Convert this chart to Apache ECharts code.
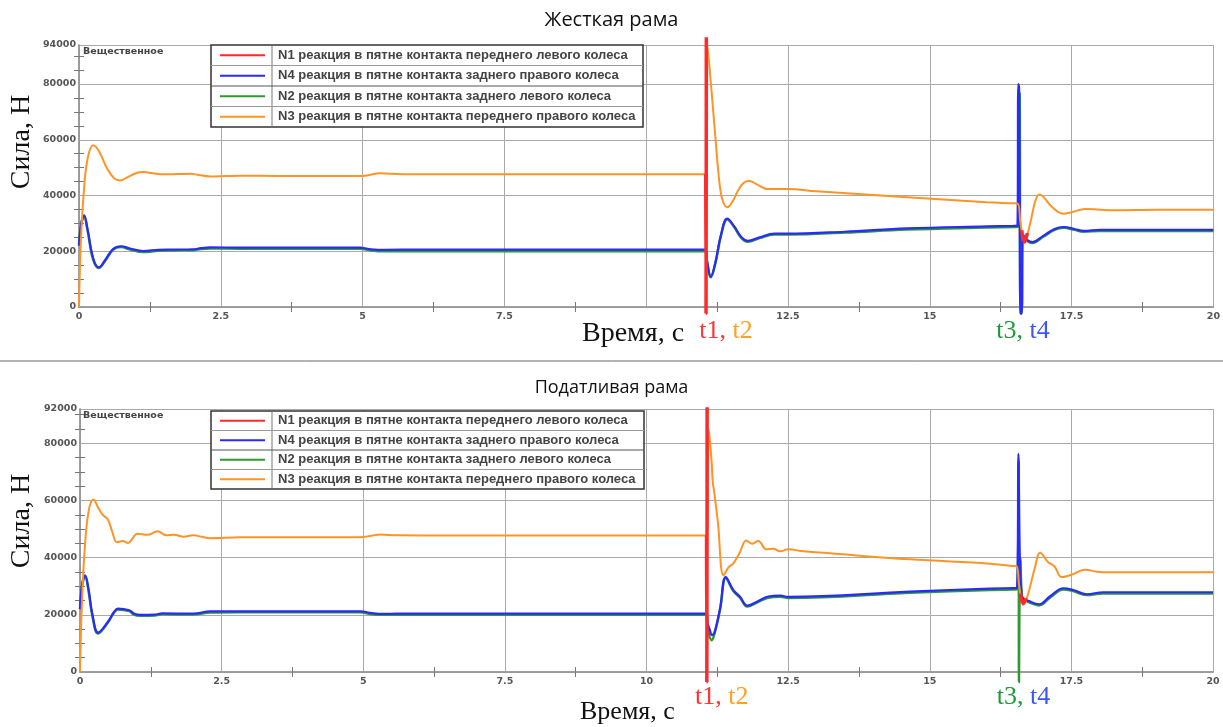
<!DOCTYPE html>
<html><head><meta charset="utf-8">
<script src="https://cdn.jsdelivr.net/npm/echarts@6/dist/echarts.min.js"></script>
<style>html,body{margin:0;padding:0;background:#fff}#c{width:1223px;height:727px}</style>
</head><body><div id="c"></div>
<script>
// ---- texts ----
const chartTitles = ['Жесткая рама', 'Податливая рама'];
const yAxisTitle = 'Сила, Н';
const xAxisTitle = 'Время, с';
const cornerNote = 'Вещественное';
const seriesNames = [
  'N1 реакция в пятне контакта переднего левого колеса',
  'N4 реакция в пятне контакта заднего правого колеса',
  'N2 реакция в пятне контакта заднего левого колеса',
  'N3 реакция в пятне контакта переднего правого колеса'
];
const seriesColors = ['#ff2a2a', '#2a2aff', '#2e9a2e', '#ff9326'];
const eventLabels = [['t1,', ' t2'], ['t3,', ' t4']];
const eventLabelColors = [['#ff3333', '#ffa020'], ['#1e9a3c', '#3a55ff']];

// ---- axes ----
const xMin = 0, xMax = 20, xStep = 2.5;
const yMin = 0, yStep = 20000;
const yMaxTop = 94000, yMaxBottom = 92000;
const eventTimesTop = [11.06, 16.56];
const eventTimesBottom = [11.07, 16.57];

// ---- data: rigid frame (top) [t, N] ----
const topN3 = [[0,0],[0.03,22000],[0.08,40000],[0.15,53000],[0.25,58000],[0.35,56000],[0.5,49500],[0.62,46200],[0.72,45400],[0.85,46500],[1.0,48000],[1.14,48400],[1.3,48000],[1.5,47600],[1.75,47700],[1.96,47800],[2.1,47400],[2.31,46850],[2.6,47000],[2.84,47100],[3.5,47000],[4.5,47000],[4.95,47000],[5.1,47300],[5.3,48000],[5.5,47800],[6.0,47600],[8.0,47600],[10.0,47600],[11.0,47600],[11.04,47600],[11.06,47600],
  [11.08,93800],[11.15,78000],[11.21,63300],[11.30,43000],[11.36,37500],[11.43,35800],[11.52,37800],[11.62,41800],[11.72,44600],[11.82,45200],[11.95,44000],[12.15,42300],[12.5,42300],[13.0,41500],[14.6,39400],[16.0,37600],[16.47,37200],[16.55,37100],
  [16.6,30000],[16.67,23300],[16.77,30000],[16.86,38000],[16.93,40400],[17.0,39600],[17.15,36000],[17.35,33500],[17.5,34000],[17.74,35200],[18.0,34900],[18.24,34700],[19.0,34900],[20.0,34900]];
const topN1 = [[11.05,47600],[11.055,-2300],[11.06,96800],[11.065,null],[16.62,27500],[16.67,23300],[16.72,26500]];
const topN4 = [[0,22000],[0.04,30000],[0.09,32900],[0.15,28000],[0.25,17500],[0.35,14200],[0.45,16500],[0.6,20800],[0.74,21800],[0.9,21000],[1.13,20100],[1.4,20500],[1.66,20600],[2.0,20700],[2.15,21100],[2.31,21400],[2.84,21300],[4.0,21300],[4.95,21300],[5.15,20700],[5.4,20500],[6.0,20600],[8.0,20600],[11.0,20600],[11.05,20600],
  [11.07,17000],[11.14,10900],[11.22,16000],[11.32,26000],[11.43,31700],[11.55,29000],[11.68,25000],[11.79,23700],[12.0,25000],[12.26,26300],[12.5,26300],[13.5,27000],[14.6,28200],[16.0,28900],[16.47,29100],[16.545,29200],
  [16.56,80000],[16.575,78000],[16.6,-2300],[16.62,-2300],[16.64,26000],[16.72,24000],[16.81,23300],[17.0,25500],[17.2,28000],[17.36,28700],[17.55,28000],[17.71,27300],[18.0,27700],[18.3,27700],[20.0,27700]];
const topN2 = [[0,22000],[0.04,30000],[0.09,32500],[0.15,27500],[0.25,17000],[0.35,14000],[0.45,16200],[0.6,20500],[0.74,21500],[0.9,20600],[1.13,19700],[1.4,20200],[1.66,20300],[2.0,20400],[2.15,20800],[2.31,21000],[2.84,20900],[4.95,20900],[5.15,20300],[5.4,20000],[6.0,20000],[11.0,20000],[11.05,20000],
  [11.07,16500],[11.14,10700],[11.22,15700],[11.32,25700],[11.43,31500],[11.55,28700],[11.68,24700],[11.79,23400],[12.0,24700],[12.26,26000],[12.5,26000],[13.5,26700],[14.6,27800],[16.0,28500],[16.5,28700],[16.57,28800],
  [16.585,77000],[16.6,-2300],[16.62,-2300],[16.64,25500],[16.72,23700],[16.81,23000],[17.0,25200],[17.2,27700],[17.36,28400],[17.55,27700],[17.71,27000],[18.0,27300],[20.0,27300]];

// ---- data: compliant frame (bottom) [t, N] ----
const botN3 = [[0,0],[0.03,22000],[0.08,42000],[0.15,56000],[0.24,60300],[0.32,57500],[0.4,55000],[0.49,53400],[0.57,49000],[0.65,45400],[0.75,45800],[0.85,45100],[0.93,46800],[1.01,48400],[1.19,48000],[1.37,49200],[1.52,47800],[1.66,48000],[1.83,47300],[2.0,47800],[2.15,47300],[2.3,46800],[2.83,47150],[4.0,47150],[4.95,47150],[5.15,47700],[5.3,48100],[5.6,47800],[6.5,47760],[11.0,47760],[11.05,47760],[11.07,47760],
  [11.1,85000],[11.15,73400],[11.17,66400],[11.2,62300],[11.26,52400],[11.36,33800],[11.45,36700],[11.53,37900],[11.65,41900],[11.76,46000],[11.86,44900],[11.97,45800],[12.12,42900],[12.24,43100],[12.36,42200],[12.5,42900],[12.77,42200],[13.12,41700],[14.65,39400],[16.06,37900],[16.45,37100],[16.53,37000],
  [16.58,30000],[16.65,23900],[16.72,26200],[16.85,36000],[16.95,41700],[17.09,38400],[17.2,37000],[17.33,33200],[17.5,34000],[17.74,35800],[17.95,35100],[18.18,34900],[20.0,34900]];
const botN1 = [[11.06,47760],[11.065,-3500],[11.07,92600],[11.075,null],[16.6,27500],[16.65,23900],[16.7,25800]];
const botN4 = [[0,22000],[0.04,31000],[0.09,33800],[0.15,29000],[0.22,20000],[0.32,13800],[0.49,17500],[0.6,21000],[0.67,22200],[0.87,21600],[0.95,20500],[1.06,20000],[1.32,20100],[1.45,20500],[2.0,20400],[2.3,21200],[2.83,21200],[4.95,21200],[5.15,20600],[5.35,20300],[5.6,20400],[11.0,20400],[11.06,20400],
  [11.08,17000],[11.12,14600],[11.15,13000],[11.2,13800],[11.3,22300],[11.4,33200],[11.53,28700],[11.65,26300],[11.78,23200],[11.95,24600],[12.15,26400],[12.36,26700],[12.5,26300],[14.65,28100],[16.06,29200],[16.48,29350],[16.54,29400],
  [16.565,76300],[16.59,40000],[16.62,27000],[16.65,25800],[16.74,24900],[16.93,23700],[17.12,26400],[17.36,29300],[17.53,28700],[17.77,27200],[18.06,27900],[20.0,27900]];
const botN2 = [[0,22000],[0.04,30500],[0.09,33400],[0.15,28500],[0.22,19500],[0.32,13500],[0.49,17200],[0.6,20700],[0.67,21900],[0.87,21300],[0.95,20100],[1.06,19700],[1.32,19800],[1.45,20200],[2.0,20100],[2.3,20800],[2.83,20900],[4.95,20900],[5.15,20200],[5.35,20000],[11.0,20000],[11.06,20000],
  [11.08,15000],[11.15,11100],[11.2,13400],[11.3,22100],[11.4,33000],[11.53,28400],[11.65,26000],[11.78,22900],[11.95,24300],[12.15,26000],[12.36,26300],[12.5,25900],[14.65,27700],[16.06,28700],[16.48,28850],[16.54,28900],
  [16.57,73600],[16.575,-3500],[16.58,-3500],[16.6,40000],[16.63,26000],[16.7,25000],[16.74,24500],[16.93,23300],[17.12,26000],[17.36,28900],[17.53,28300],[17.77,26900],[18.06,27500],[20.0,27500]];

// ---- layout ----
const grids = [
  {left: 79, top: 45, width: 1138, height: 262},
  {left: 80, top: 409, width: 1133, height: 263}
];
const legendBoxes = [
  {x: 211, y: 45, w: 432, row: 20.5},
  {x: 211, y: 411, w: 433, row: 19.5}
];

const gridColor = '#aaaaaa';
const borderColor = '#999999';
const tickLabelStyle = {color: '#555', fontFamily: 'DejaVu Sans', fontWeight: 'bold', fontSize: 9.5};

function xAxes(gi, hideTen) {
  const base = {
    type: 'value', gridIndex: gi, min: xMin, max: xMax, interval: xStep,
    axisLine: {show: true, lineStyle: {color: borderColor, width: 1.5}},
    axisTick: {show: false},
    minorTick: {show: true, splitNumber: 2, length: 5, lineStyle: {color: '#777'}},
    minorSplitLine: {show: false}
  };
  return [
    Object.assign({}, base, {
      position: 'bottom',
      splitLine: {show: true, lineStyle: {color: gridColor, width: 1}},
      axisLabel: Object.assign({margin: 5, formatter: v => (hideTen && v === 10) ? '' : String(v)}, tickLabelStyle)
    }),
    Object.assign({}, base, {
      position: 'top',
      splitLine: {show: false},
      axisLabel: {show: false}
    })
  ];
}
function yAxes(gi, ymax) {
  const base = {
    type: 'value', gridIndex: gi, min: yMin, max: ymax, interval: yStep,
    axisLine: {show: true, lineStyle: {color: borderColor, width: 1.5}},
    axisTick: {show: false},
    minorTick: {show: true, splitNumber: 4, length: 5, lineStyle: {color: '#777'}}
  };
  return [
    Object.assign({}, base, {
      position: 'left',
      splitLine: {show: true, lineStyle: {color: gridColor, width: 1}},
      axisLabel: Object.assign({margin: 3, formatter: v => String(v)}, tickLabelStyle)
    }),
    Object.assign({}, base, {
      position: 'right',
      splitLine: {show: false},
      axisLabel: {show: false}
    })
  ];
}

function mkSeries(gi, name, data, color, width, z) {
  return {
    type: 'line', name: name, data: data,
    xAxisIndex: gi * 2, yAxisIndex: gi * 2,
    symbol: 'none', showSymbol: false,
    smooth: 0.4, clip: false, connectNulls: false,
    lineStyle: {color: color, width: width}, itemStyle: {color: color},
    z: z, animation: false
  };
}

const seriesList = [];
[[topN1, topN4, topN2, topN3], [botN1, botN4, botN2, botN3]].forEach((set, gi) => {
  // draw order: N4 (blue) under N2 (green) at top chart spike region is handled by data offsets
  seriesList.push(mkSeries(gi, seriesNames[2], set[2], seriesColors[2], 2.5, 2));
  seriesList.push(mkSeries(gi, seriesNames[1], set[1], seriesColors[1], 2.2, 3));
  seriesList.push(mkSeries(gi, seriesNames[3], set[3], seriesColors[3], 2, 4));
  seriesList.push(mkSeries(gi, seriesNames[0], set[0], seriesColors[0], 3.5, 5));
});

const legends = legendBoxes.map(b => ({
  orient: 'vertical', left: b.x + 9, top: b.y, padding: 0, itemGap: 0,
  itemWidth: 45, itemHeight: 2,
  icon: 'rect',
  data: seriesNames,
  selectedMode: false,
  textStyle: {color: '#444', fontFamily: 'Liberation Sans', fontWeight: 'bold', fontSize: 13,
    lineHeight: b.row, height: b.row, padding: [0, 0, 0, 8]}
}));

const chart = echarts.init(document.getElementById('c'), null, {renderer: 'canvas'});

function legendGraphics(b) {
  const g = [];
  g.push({type: 'rect', z: 3, shape: {x: b.x, y: b.y, width: b.w, height: b.row * 4},
    style: {fill: '#fff', stroke: null}});
  g.push({type: 'rect', z: 10, shape: {x: b.x, y: b.y, width: b.w, height: b.row * 4},
    style: {fill: null, stroke: '#333', lineWidth: 1.5}});
  g.push({type: 'line', z: 10, shape: {x1: b.x + 61, y1: b.y, x2: b.x + 61, y2: b.y + b.row * 4},
    style: {stroke: '#777', lineWidth: 1}});
  for (let i = 1; i < 4; i++) {
    g.push({type: 'line', z: 10, shape: {x1: b.x, y1: b.y + b.row * i, x2: b.x + b.w, y2: b.y + b.row * i},
      style: {stroke: i === 2 ? '#555' : '#999', lineWidth: 1}});
  }
  return g;
}

chart.setOption({
  backgroundColor: '#fff',
  animation: false,
  title: chartTitles.map((t, i) => ({
    text: t, left: 'center', top: i === 0 ? 5 : 374,
    textStyle: {fontFamily: 'Open Sans', fontWeight: 'normal', fontSize: i === 0 ? 20 : 18, color: '#111'}
  })),
  grid: grids.map(g => Object.assign({containLabel: false}, g)),
  xAxis: xAxes(0, true).concat(xAxes(1, false)),
  yAxis: yAxes(0, yMaxTop).concat(yAxes(1, yMaxBottom)),
  legend: legends,
  series: seriesList
});

// annotations placed relative to the axes
function px(gi, t, v) { return chart.convertToPixel({xAxisIndex: gi * 2, yAxisIndex: gi * 2}, [t, v]); }
const graphics = [];
legendBoxes.forEach(b => legendGraphics(b).forEach(e => graphics.push(e)));
graphics.push({type: 'line', z: 1, shape: {x1: 0, y1: 361, x2: 1223, y2: 361}, style: {stroke: '#666', lineWidth: 1}});
[0, 1].forEach(gi => {
  const g = grids[gi];
  const bottom = g.top + g.height;
  graphics.push({type: 'text', z: 10, x: 83, y: g.top + 2,
    style: {text: cornerNote, fill: '#444', font: 'bold 9.5px "DejaVu Sans"', textVerticalAlign: 'top'}});
  graphics.push({type: 'text', z: 10, x: 22, y: g.top + (gi === 0 ? 97 : 112), rotation: Math.PI / 2,
    style: {text: yAxisTitle, fill: '#111', font: '28px "Liberation Serif"', textAlign: 'center', textVerticalAlign: 'middle'}});
  const tY = gi === 0 ? bottom + 24 : bottom + 25;
  const wY = gi === 0 ? bottom + 27 : bottom + 40;
  graphics.push({type: 'text', z: 10, x: gi === 0 ? 582 : 580, y: wY,
    style: {text: xAxisTitle, fill: '#111', font: (gi === 0 ? '28px' : '26px') + ' "Liberation Serif"', textVerticalAlign: 'middle'}});
  const ev = gi === 0 ? eventTimesTop : eventTimesBottom;
  ev.forEach((t, k) => {
    const x = px(gi, t, 0)[0];
    const off = k === 0 ? (gi === 0 ? -7 : -12) : (gi === 0 ? -22 : -22);
    graphics.push({type: 'text', z: 10, x: x + off, y: tY,
      style: {
        text: '{a|' + eventLabels[k][0] + '}{b|' + eventLabels[k][1] + '}',
        textVerticalAlign: 'middle',
        rich: {
          a: {fill: eventLabelColors[k][0], font: '26px "Liberation Serif"'},
          b: {fill: eventLabelColors[k][1], font: '26px "Liberation Serif"'}
        }
      }});
  });
});
chart.setOption({graphic: {elements: graphics}});
</script>
</body></html>
